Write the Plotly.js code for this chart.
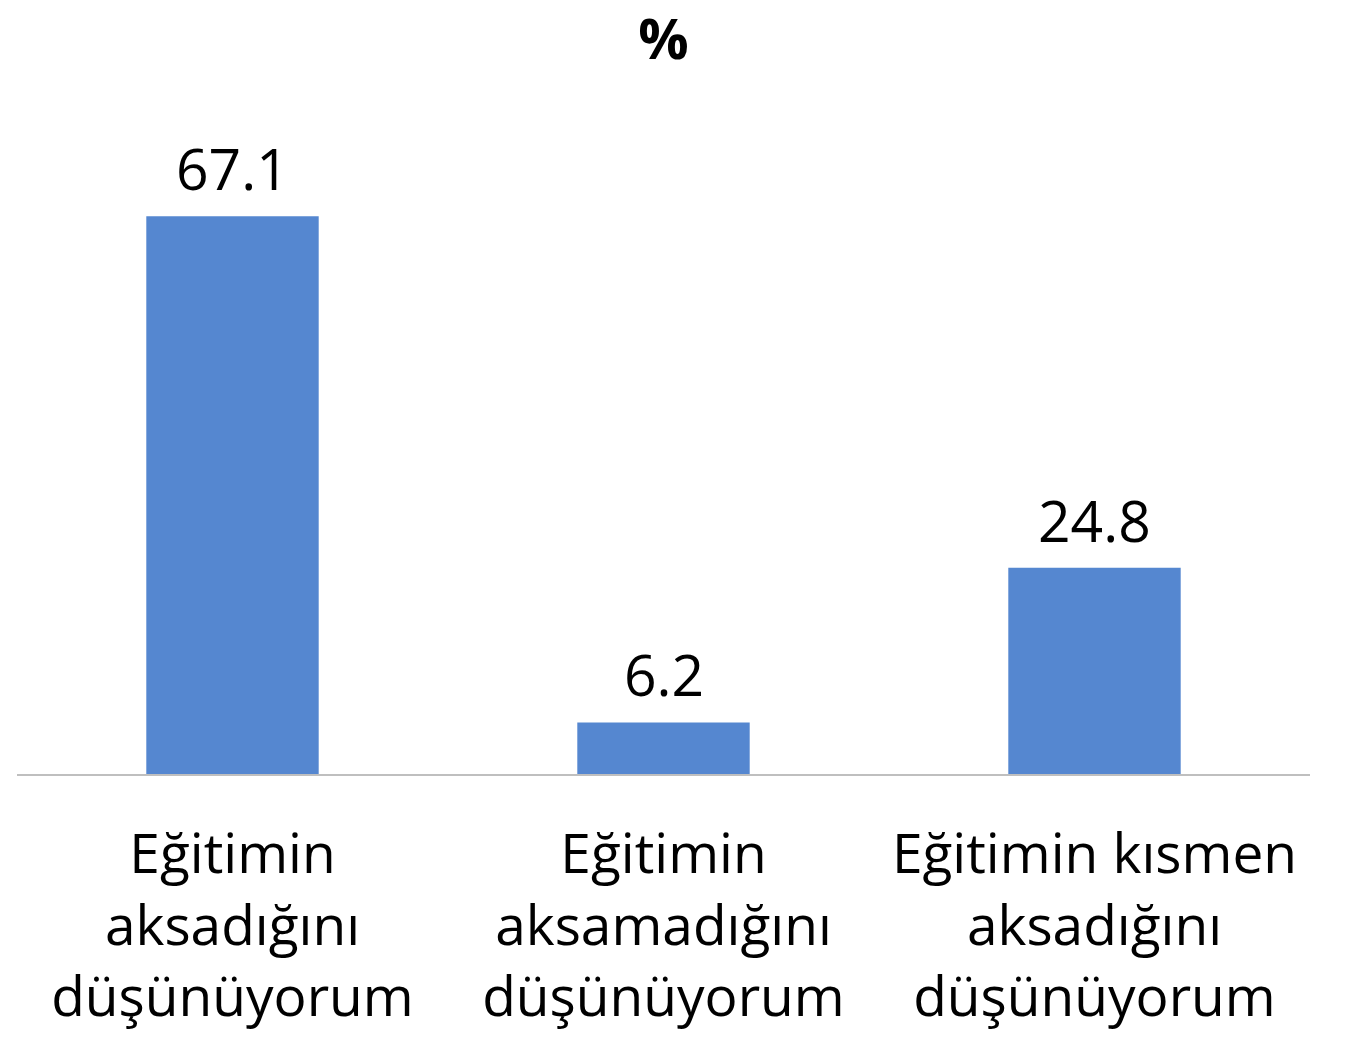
<!DOCTYPE html>
<html>
<head>
<meta charset="utf-8">
<script src="https://cdn.plot.ly/plotly-3.0.1.min.js"></script>
<style>html,body{margin:0;padding:0;background:#fff;}#chart{width:1347px;height:1039px;}</style>
</head>
<body>
<div id="chart"></div>
<script>
var categories = ["Eğitimin<br>aksadığını<br>düşünüyorum", "Eğitimin<br>aksamadığını<br>düşünüyorum", "Eğitimin kısmen<br>aksadığını<br>düşünüyorum"];
var values = [67.1, 6.2, 24.8];
var valueLabels = ["67.1", "6.2", "24.8"];

var FONT = "Open Sans, Noto Sans, sans-serif";

var trace = {
  type: "bar",
  x: categories,
  y: values,
  marker: {color: "#5587D0"},
  hoverinfo: "none"
};

var annotations = categories.map(function (c, i) {
  return {
    x: c, y: values[i], xref: "x", yref: "y",
    text: valueLabels[i], showarrow: false,
    yanchor: "bottom", yshift: 7,
    font: {family: FONT, size: 57, color: "#000"}
  };
});

var layout = {
  width: 1347, height: 1039,
  margin: {l: 17, r: 37, t: 109, b: 265, pad: 0},
  paper_bgcolor: "#fff", plot_bgcolor: "#fff",
  showlegend: false,
  bargap: 0.6,
  title: {text: "<b>%</b>", xref: "paper", x: 0.5, xanchor: "center", y: 0.9625, yanchor: "middle",
          font: {family: FONT, size: 56, color: "#000"}},
  xaxis: {
    type: "category",
    showline: true, linecolor: "#BFBFBF", linewidth: 2,
    ticks: "", showgrid: false, zeroline: false,
    tickfont: {family: FONT, size: 55, color: "#000"},
    ticklabelstandoff: 31,
    tickangle: 0
  },
  yaxis: {
    range: [0, 80], visible: false, showgrid: false, zeroline: false
  },
  annotations: annotations
};

Plotly.newPlot("chart", [trace], layout, {displayModeBar: false, staticPlot: true});
</script>
</body>
</html>
